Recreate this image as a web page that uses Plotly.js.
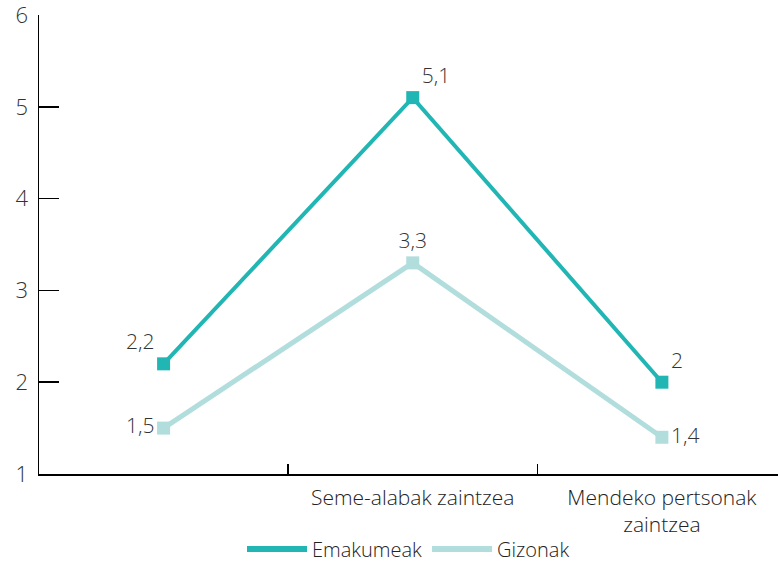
<!DOCTYPE html>
<html>
<head>
<meta charset="utf-8">
<script src="https://cdn.plot.ly/plotly-3.0.1.min.js"></script>
<style>html,body{margin:0;padding:0;background:#fff;}#chart{width:778px;height:569px;}</style>
</head>
<body>
<div id="chart"></div>
<script>
var categories = ["", "Seme-alabak zaintzea", "Mendeko pertsonak<br>zaintzea"];
var xPositions = [0, 1, 2];
var emakumeak = [2.2, 5.1, 2.0];
var gizonak = [1.5, 3.3, 1.4];
var seriesNames = ["Emakumeak", "Gizonak"];
var yTicks = [1, 2, 3, 4, 5, 6];

var teal = "#21b6b4";
var light = "#b1dddd";
var font = "Open Sans, sans-serif";

var traces = [
  {
    x: xPositions, y: emakumeak, mode: "lines+markers+text", showlegend: false,
    line: {color: teal, width: 4},
    marker: {symbol: "square", size: 13, color: teal},
    texttemplate: "%{y}", textposition: ["top left", "top right", "top right"],
    textfont: {family: font, size: 21, color: "#333", weight: 300}, cliponaxis: false, hoverinfo: "skip"
  },
  {
    x: xPositions, y: gizonak, mode: "lines+markers+text", showlegend: false,
    line: {color: light, width: 5},
    marker: {symbol: "square", size: 13, color: light},
    texttemplate: "%{y}", textposition: ["middle left", "top center", "middle right"],
    textfont: {family: font, size: 21, color: "#333", weight: 300}, cliponaxis: false, hoverinfo: "skip"
  },
  {x: [null], y: [null], mode: "lines", name: seriesNames[0], line: {color: teal, width: 6}},
  {x: [null], y: [null], mode: "lines", name: seriesNames[1], line: {color: light, width: 6}}
];

var layout = {
  width: 778, height: 569,
  margin: {l: 39, r: 0, t: 15, b: 95, autoexpand: false},
  paper_bgcolor: "#fff", plot_bgcolor: "#fff",
  separators: ",.",
  font: {family: font, size: 19, color: "#333"},
  showlegend: true,
  legend: {orientation: "h", x: 0.5, xanchor: "center", y: -0.206, yanchor: "bottom",
           font: {family: font, size: 20, color: "#222", weight: 300}, itemwidth: 60},
  xaxis: {
    range: [-0.5, 2.466], showgrid: false, zeroline: false,
    showline: true, linecolor: "#000", linewidth: 1.5,
    tickmode: "array", tickvals: xPositions, ticktext: categories, ticks: "",
    tickfont: {family: font, size: 21, color: "#222", weight: 300}, ticklabelstandoff: 4,
    ticklabeloverflow: "allow",
    minor: {tickvals: [0.5, 1.5], ticks: "inside", ticklen: 10, tickcolor: "#000", tickwidth: 1.5, showgrid: false}
  },
  yaxis: {
    range: [1, 6], tickmode: "array", tickvals: yTicks, showgrid: false, zeroline: false,
    showline: true, linecolor: "#000", linewidth: 1.5,
    ticks: "inside", ticklen: 20, tickcolor: "#000", tickwidth: 1.5,
    tickfont: {family: font, size: 22, color: "#333", weight: 300}, ticklabelstandoff: 5,
    ticklabeloverflow: "allow"
  }
};

Plotly.newPlot("chart", traces, layout, {displayModeBar: false, staticPlot: true});
</script>
</body>
</html>
